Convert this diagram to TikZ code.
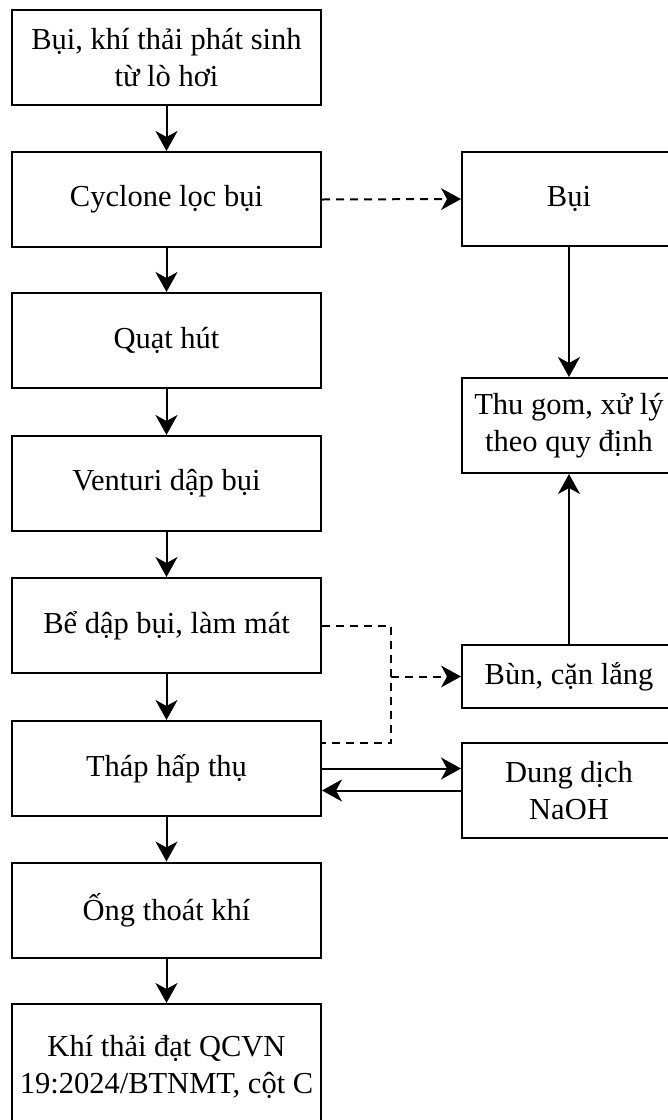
\documentclass[tikz,border=0pt]{standalone}
\usepackage{fontspec}
\setmainfont{Liberation Serif}
\usetikzlibrary{arrows.meta,calc}
\begin{document}
\begin{tikzpicture}[x=1pt,y=-1pt,
  box/.style={draw=black,line width=2pt,fill=white,align=center,inner sep=0pt,
    font=\fontsize{30.5}{37}\selectfont},
  lbox/.style={box,minimum width=309pt,minimum height=95pt},
  rbox/.style={box,minimum width=214pt},
  conn/.style={line width=2pt,-{Stealth[length=20pt,width=22pt,inset=6pt]}},
  dline/.style={line width=2pt,dash pattern=on 8pt off 6pt},
  dconn/.style={dline,-{Stealth[length=20pt,width=22pt,inset=6pt,line width=0pt]}}
]
\useasboundingbox (0,0) rectangle (668,1120);
\clip (0,0) rectangle (668,1120);
\fill[white] (0,0) rectangle (668,1120);

\node[lbox] (b1) at (166.5,57.5) {Bụi, khí thải phát sinh\\từ lò hơi};
\node[lbox] (b2) at (166.5,199.5) {Cyclone lọc bụi};
\node[lbox] (b3) at (166.5,340.5) {Quạt hút};
\node[lbox] (b4) at (166.5,483.5) {Venturi dập bụi};
\node[lbox] (b5) at (166.5,625.5) {Bể dập bụi, làm mát};
\node[lbox] (b6) at (166.5,768.5) {Tháp hấp thụ};
\node[lbox] (b7) at (166.5,910) {Ống thoát khí};
\node[lbox,minimum height=126pt] (b8) at (166.5,1067) {Khí thải đạt QCVN\\19:2024/BTNMT, cột C};

\node[rbox,minimum height=94pt] (bui) at (569,199) {Bụi};
\node[rbox,minimum height=95pt] (tg) at (569,425.5) {Thu gom, xử lý\\theo quy định};
\node[rbox,minimum height=63pt] (bun) at (569,676.5) {Bùn, cặn lắng};
\node[rbox,minimum height=95pt] (naoh) at (569,790.5) {Dung dịch\\NaOH};

\draw[conn] (b1) -- (b2);
\draw[conn] (b2) -- (b3);
\draw[conn] (b3) -- (b4);
\draw[conn] (b4) -- (b5);
\draw[conn] (b5) -- (b6);
\draw[conn] (b6) -- (b7);
\draw[conn] (b7) -- (b8);

\draw[dconn] (b2.east) -- (bui.west);
\draw[conn] (bui) -- (tg);
\draw[conn] (bun) -- (tg);

\coordinate (j) at (391,676.5);
\coordinate (d6) at (322,743);
\draw[dline] (b5.east) -| (j) |- (d6);
\draw[dconn] (j) -- (bun.west);

\draw[conn] (b6.east) -- (b6.east -| naoh.west);
\draw[conn] (naoh.west) -- (naoh.west -| b6.east);
\end{tikzpicture}
\end{document}
